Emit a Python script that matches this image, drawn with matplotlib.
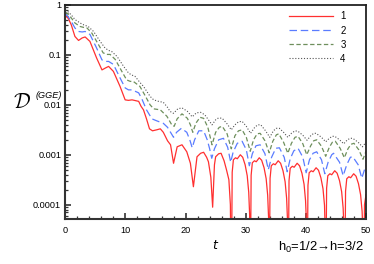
import matplotlib
matplotlib.use("Agg")
import matplotlib.pyplot as plt
import numpy as np
from matplotlib.ticker import FixedLocator, LogLocator, NullFormatter, MultipleLocator

# ---- data (log10 of D) ----
t1 = [0, 0.5, 1.0, 1.6, 2.2, 2.8, 3.3, 4.1, 5.2, 6.1, 6.7, 7.2, 8.0, 9.1, 9.95, 10.5, 11.1, 12.2,
      12.6, 13.0, 13.5, 14.0, 14.5, 15.2, 15.8, 16.3, 17.0, 17.5, 18.0, 18.6, 19.4, 20.2, 20.8, 21.3,
      21.9, 22.5, 23.0, 23.5, 23.8, 24.2, 24.5, 24.8, 25.0, 25.5, 25.9, 26.4, 26.8, 27.2, 27.45, 27.6,
      27.75, 27.95, 28.3, 28.6, 29.1, 29.5, 29.9, 30.25, 30.5, 30.65, 30.75,
      30.9, 31.1, 31.45, 31.75, 32.25, 32.65, 33.05, 33.4, 33.65, 33.8, 33.9,
      34.05, 34.25, 34.6, 34.9, 35.4, 35.8, 36.2, 36.55, 36.8, 36.95, 37.05,
      37.2, 37.4, 37.75, 38.05, 38.55, 38.95, 39.35, 39.7, 39.95, 40.1, 40.2,
      40.35, 40.55, 40.9, 41.2, 41.7, 42.1, 42.5, 42.85, 43.1, 43.2, 43.3,
      43.45, 43.65, 44.0, 44.3, 44.8, 45.2, 45.6, 45.95, 46.2, 46.35, 46.45,
      46.6, 46.8, 47.15, 47.45, 47.95, 48.35, 48.75, 49.1, 49.35, 49.5, 49.6,
      49.75, 50.0]
lg1 = [-0.21, -0.27, -0.40, -0.63, -0.71, -0.66, -0.64, -0.73, -1.06, -1.30, -1.26, -1.23, -1.33, -1.63,
       -1.90, -1.91, -1.90, -1.93, -2.03, -2.10, -2.28, -2.48, -2.52, -2.50, -2.48, -2.55, -2.72, -2.80,
       -3.17, -2.84, -2.80, -2.94, -3.17, -3.64, -3.04, -2.97, -2.95, -3.05, -3.14, -3.45, -4.05, -3.20,
       -3.04, -2.98, -2.97, -3.12, -3.30, -3.50, -4.00, -6,
       -3.35, -3.10, -3.06, -3.08, -3.00, -3.05, -3.20, -3.42, -3.75, -4.20, -6,
       -3.41, -3.16, -3.12, -3.14, -3.06, -3.11, -3.26, -3.48, -3.81, -4.26, -6,
       -3.47, -3.22, -3.18, -3.20, -3.12, -3.17, -3.32, -3.54, -3.87, -4.32, -6,
       -3.52, -3.27, -3.23, -3.25, -3.17, -3.22, -3.37, -3.59, -3.92, -4.37, -6,
       -3.61, -3.36, -3.32, -3.34, -3.26, -3.31, -3.46, -3.68, -4.01, -4.46, -6,
       -3.67, -3.42, -3.38, -3.40, -3.32, -3.37, -3.52, -3.74, -4.07, -4.52, -6,
       -3.73, -3.48, -3.44, -3.46, -3.38, -3.43, -3.58, -3.80, -4.13, -4.58, -6,
       -4.00, -3.80]

t2 = [0, 0.5, 1.0, 1.6, 2.2, 2.8, 3.3, 4.1, 5.2, 6.1, 6.7, 7.2, 8.0, 9.1, 9.95, 10.5, 11.1, 12.2,
      12.8, 13.5, 14.4, 15.2, 16.3, 17.0, 17.5, 18.0, 18.5, 19.3, 20.2, 20.7, 21.1, 21.5, 22.2, 23.0,
      23.6, 24.0, 24.35, 24.8, 25.5, 26.3, 27.0, 27.5, 27.9, 28.6, 29.4, 30.1, 30.6, 31.1, 31.7, 32.4,
      33.2, 33.75, 34.3, 35.0, 35.6, 36.4, 36.9, 37.4, 38.0, 38.7, 39.5, 40.05, 40.6, 41.2, 41.8,
      42.6, 43.15, 43.7, 44.3, 44.6, 45.6, 46.2, 46.8, 47.4, 47.8, 48.7, 49.3, 49.8, 50.0]
lg2 = [-0.17, -0.24, -0.33, -0.46, -0.53, -0.54, -0.53, -0.59, -0.86, -1.10, -1.13, -1.13, -1.19, -1.46,
       -1.66, -1.70, -1.70, -1.76, -1.90, -2.10, -2.28, -2.32, -2.37, -2.45, -2.55, -2.65, -2.55, -2.47,
       -2.55, -2.70, -2.86, -2.70, -2.52, -2.52, -2.70, -2.88, -3.07, -2.88, -2.70, -2.67, -2.85, -3.15,
       -2.95, -2.77, -2.73, -2.90, -3.22, -2.98, -2.82, -2.80, -2.98, -3.30, -3.05, -2.87, -2.86, -3.05,
       -3.34, -3.08, -2.92, -2.87, -3.05, -3.36, -3.10, -2.97, -2.94, -3.10, -3.38, -3.15, -3.00, -2.97,
       -3.15, -3.42, -3.20, -3.05, -3.04, -3.20, -3.47, -3.28, -3.22]

t3 = [0, 0.5, 1.0, 1.6, 2.45, 3.1, 3.6, 4.4, 5.5, 6.3, 7.0, 7.45, 8.3, 9.4, 10.2, 10.8, 11.3, 12.4,
      13.2, 14.1, 14.7, 15.8, 16.9, 17.7, 18.1, 18.6, 19.4, 20.3, 20.8, 21.2, 21.7, 22.4, 23.0, 23.7,
      24.4, 25.0, 25.6, 26.1, 26.9, 27.6, 28.2, 28.8, 29.4, 30.1, 30.75, 31.3, 31.9, 32.4, 33.2, 33.9,
      34.5, 35.1, 35.5, 36.3, 37.0, 37.6, 38.2, 38.7, 39.5, 40.15, 40.8, 41.3, 41.8, 42.6, 43.3, 43.9,
      44.4, 44.9, 45.7, 46.4, 47.0, 47.5, 48.0, 48.8, 49.5, 50.0]
lg3 = [-0.14, -0.19, -0.26, -0.36, -0.43, -0.45, -0.46, -0.56, -0.79, -0.96, -0.99, -0.99, -1.09, -1.33,
       -1.50, -1.53, -1.53, -1.63, -1.80, -2.00, -2.08, -2.10, -2.23, -2.40, -2.43, -2.28, -2.18, -2.27,
       -2.40, -2.55, -2.37, -2.25, -2.27, -2.45, -2.80, -2.55, -2.45, -2.43, -2.58, -2.88, -2.62, -2.52,
       -2.50, -2.65, -2.93, -2.70, -2.58, -2.57, -2.72, -2.96, -2.73, -2.60, -2.58, -2.75, -2.97, -2.77,
       -2.65, -2.63, -2.78, -3.00, -2.82, -2.72, -2.70, -2.83, -3.03, -2.85, -2.75, -2.73, -2.87, -3.06,
       -2.88, -2.79, -2.77, -2.90, -3.09, -2.93]

t4 = [0, 0.5, 1.0, 1.6, 2.45, 3.1, 3.8, 4.7, 5.8, 6.6, 7.2, 7.7, 8.6, 9.7, 10.5, 11.0, 11.6, 12.4,
      13.0, 14.1, 14.7, 15.5, 16.3, 17.0, 17.4, 18.0, 18.7, 19.4, 20.3, 21.1, 21.8, 22.5, 23.2, 23.8,
      24.4, 25.0, 25.5, 26.1, 26.9, 27.6, 28.2, 28.8, 29.4, 30.1, 30.8, 31.5, 32.0, 32.5, 33.3, 34.0,
      34.6, 35.1, 35.6, 36.3, 37.0, 37.6, 38.2, 38.7, 39.5, 40.2, 40.8, 41.3, 41.7, 42.6, 43.3, 43.9,
      44.4, 44.8, 45.6, 46.3, 46.9, 47.4, 47.8, 48.7, 49.4, 50.0]
lg4 = [-0.10, -0.14, -0.20, -0.29, -0.36, -0.40, -0.43, -0.53, -0.73, -0.86, -0.91, -0.93, -1.03, -1.23,
       -1.36, -1.40, -1.43, -1.55, -1.63, -1.83, -1.90, -1.93, -1.95, -2.05, -2.13, -2.17, -2.08, -2.06,
       -2.13, -2.24, -2.16, -2.15, -2.20, -2.30, -2.40, -2.30, -2.26, -2.27, -2.38, -2.50, -2.40, -2.34,
       -2.33, -2.43, -2.57, -2.45, -2.40, -2.40, -2.52, -2.65, -2.52, -2.47, -2.47, -2.55, -2.65, -2.57,
       -2.52, -2.53, -2.61, -2.71, -2.62, -2.57, -2.57, -2.65, -2.74, -2.67, -2.63, -2.63, -2.70, -2.78,
       -2.70, -2.67, -2.67, -2.75, -2.84, -2.75]

labels = ["1", "2", "3", "4"]
ytick_vals = [1e-4, 1e-3, 1e-2, 1e-1, 1]
ytick_labels = ["0.0001", "0.001", "0.01", "0.1", "1"]
xtick_vals = [0, 10, 20, 30, 40, 50]

# ---- figure ----
W, H = 374, 264
fig = plt.figure(figsize=(W / 100, H / 100), dpi=100)
ax = fig.add_axes([65.3 / W, 1 - 219.3 / H, (366 - 65.3) / W, (219.3 - 5) / H])

font = ['Liberation Sans', 'DejaVu Sans']
fs = 6.6

ax.plot(t1, 10 ** np.array(lg1), color='#ff3030', lw=0.9, ls='-', label=labels[0])
ax.plot(t2, 10 ** np.array(lg2), color='#5a7cff', lw=0.9, ls=(0, (6, 3)), label=labels[1])
ax.plot(t3, 10 ** np.array(lg3), color='#6e8f5c', lw=0.9, ls=(0, (3.5, 2)), label=labels[2])
ax.plot(t4, 10 ** np.array(lg4), color='#555555', lw=0.8, ls=(0, (1, 1.6)), label=labels[3])

ax.set_yscale('log')
ax.set_xlim(0, 50)
ax.set_ylim(5.1e-5, 1)

ax.yaxis.set_major_locator(FixedLocator(ytick_vals))
ax.set_yticklabels(ytick_labels)
ax.yaxis.set_minor_locator(LogLocator(base=10, subs=np.arange(2, 10)))
ax.yaxis.set_minor_formatter(NullFormatter())
ax.xaxis.set_major_locator(FixedLocator(xtick_vals))
ax.set_xticklabels([str(v) for v in xtick_vals])
ax.xaxis.set_minor_locator(MultipleLocator(2))

ax.tick_params(which='major', direction='in', length=4, width=1.2, color='#333333',
               labelsize=fs, pad=3, top=False, right=False)
ax.tick_params(axis='x', which='major', pad=4.5)
ax.tick_params(which='minor', direction='in', length=2, width=0.9, color='#333333',
               top=False, right=False)
for lab in ax.get_xticklabels() + ax.get_yticklabels():
    lab.set_family(font)

for side in ['left', 'bottom']:
    ax.spines[side].set_linewidth(1.5)
    ax.spines[side].set_color('#333333')
for side in ['top', 'right']:
    ax.spines[side].set_linewidth(1.3)
    ax.spines[side].set_color('#222222')

leg = ax.legend(loc='upper right', bbox_to_anchor=(0.945, 0.988), frameon=False,
                handlelength=4.6, handletextpad=0.7, labelspacing=0.42,
                prop={'family': font, 'size': fs + 0.4}, borderaxespad=0.0)

# y label: calligraphic D with superscript placed above the 0.01 tick label
fig.text(13 / W, 1 - 107.5 / H, r'$\mathcal{D}$', fontsize=15,
         math_fontfamily='cm', va='baseline', ha='left')
fig.text(35.5 / W, 1 - 97.5 / H, '(GGE)', fontsize=6.6, style='italic',
         family=font, va='baseline', ha='left')
fig.text(216 / W, 1 - 249 / H, r'$t$', fontsize=9, ha='center', va='baseline',
         math_fontfamily='dejavusans')
fig.text(363.5 / W, 1 - 251 / H, r'h$\mathregular{_0}$=1/2→h=3/2', fontsize=9.4,
         ha='right', va='baseline', family=font)

fig.savefig('out.png', dpi=100)
